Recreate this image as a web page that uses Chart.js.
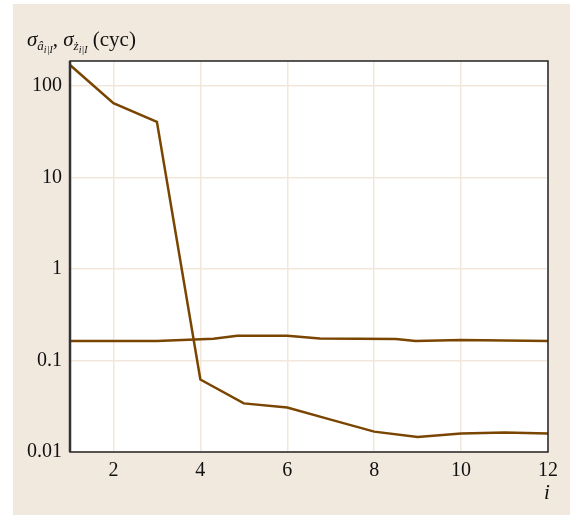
<!DOCTYPE html>
<html>
<head>
<meta charset="utf-8">
<script src="https://cdn.jsdelivr.net/npm/chart.js@4"></script>
<style>
  body { margin: 0; background: #fff; }
  #panel { position: absolute; left: 13px; top: 4px; width: 557px; height: 511px; background: #f2e9de; }
  #chartBox { position: absolute; left: 0; top: 0; width: 557px; height: 511px; }
  .lbl { position: absolute; font-family: "Liberation Serif", serif; color: #111; white-space: nowrap; }
  #yTitle { left: 14px; top: 23px; font-size: 21px; }
  #yTitle i { font-style: italic; }
  #yTitle sub { font-size: 13px; font-style: italic; vertical-align: -4px; }
  #yTitle sub sub { font-size: 10px; vertical-align: -3px; }
  #xTitle { left: 531px; top: 476px; font-size: 21px; font-style: italic; }
</style>
</head>
<body>
<div id="panel">
  <div id="chartBox"><canvas id="lineChart" width="557" height="511"></canvas></div>
  <div class="lbl" id="yTitle"><i>σ</i><sub>â<sub>i|I</sub></sub>, <i>σ</i><sub>ż<sub>i|I</sub></sub> (cyc)</div>
  <div class="lbl" id="xTitle">i</div>
</div>
<script>
// Values
const epochs = [1, 2, 3, 4, 5, 6, 7, 8, 9, 10, 11, 12];
const ambiguitySigma = [170, 65, 40.6, 0.062, 0.034, 0.0307, 0.0226, 0.0167, 0.0146, 0.0159, 0.0163, 0.0159];

const baselineEpochs = [1, 3, 4.3, 4.85, 6.0, 6.75, 8.5, 8.95, 10, 12];
const baselineSigma = [0.163, 0.163, 0.173, 0.186, 0.186, 0.174, 0.172, 0.163, 0.168, 0.163];

const xTicks = [2, 4, 6, 8, 10, 12];
const yTicks = [0.01, 0.1, 1, 10, 100];

const lineColor = '#7a4500';
const gridColor = '#f2e7da';
const tickFont = { family: 'Liberation Serif', size: 20 };

// frame round the plot area
const framePlugin = {
  id: 'frame',
  afterDraw(chart) {
    const { ctx, chartArea: a } = chart;
    ctx.save();
    ctx.strokeStyle = '#222';
    ctx.lineWidth = 1.5;
    ctx.strokeRect(a.left, a.top, a.right - a.left, a.bottom - a.top);
    ctx.lineWidth = 2.5;
    ctx.strokeStyle = '#333';
    ctx.beginPath();
    ctx.moveTo(a.left, a.top);
    ctx.lineTo(a.left, a.bottom);
    ctx.stroke();
    ctx.restore();
  }
};

const whitePlot = {
  id: 'whitePlot',
  beforeDraw(chart) {
    const { ctx, chartArea: a } = chart;
    ctx.save();
    ctx.fillStyle = '#fff';
    ctx.fillRect(a.left, a.top, a.right - a.left, a.bottom - a.top);
    ctx.restore();
  }
};

new Chart(document.getElementById('lineChart').getContext('2d'), {
  type: 'line',
  data: {
    datasets: [{
      label: 'ambiguity',
      data: epochs.map((x, k) => ({ x: x, y: ambiguitySigma[k] })),
      borderColor: lineColor,
      borderWidth: 2.5,
      pointRadius: 0,
      tension: 0
    }, {
      label: 'baseline',
      data: baselineEpochs.map((x, k) => ({ x: x, y: baselineSigma[k] })),
      borderColor: lineColor,
      borderWidth: 2.5,
      pointRadius: 0,
      tension: 0
    }]
  },
  options: {
    responsive: false,
    animation: false,
    layout: { padding: { top: 57, right: 22, left: 0, bottom: 0 } },
    plugins: { legend: { display: false }, tooltip: { enabled: false } },
    scales: {
      x: {
        type: 'linear',
        min: 1,
        max: 12,
        afterBuildTicks: s => { s.ticks = xTicks.map(v => ({ value: v })); },
        afterFit: s => { s.height = 63; },
        grid: { color: gridColor, lineWidth: 1.5, drawTicks: false },
        border: { display: false },
        ticks: { color: '#111', font: tickFont, padding: 7, maxRotation: 0 }
      },
      y: {
        type: 'logarithmic',
        min: 0.01,
        max: 188,
        afterBuildTicks: s => { s.ticks = yTicks.map(v => ({ value: v })); },
        afterFit: s => { s.width = 57; },
        grid: { color: gridColor, lineWidth: 1.5, drawTicks: false },
        border: { display: false },
        ticks: { color: '#111', font: tickFont, padding: 8, callback: v => String(v) }
      }
    }
  },
  plugins: [whitePlot, framePlugin]
});
</script>
</body>
</html>
